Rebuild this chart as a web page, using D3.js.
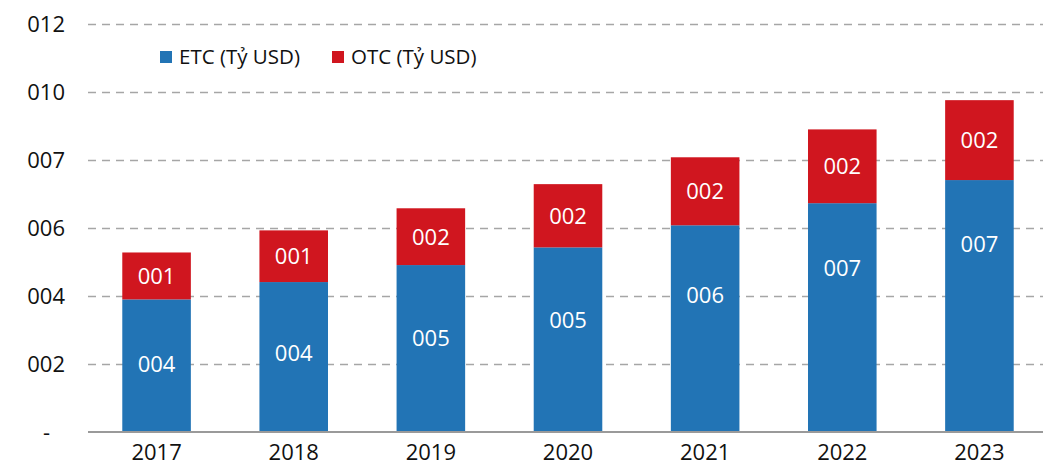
<!DOCTYPE html>
<html>
<head>
<meta charset="utf-8">
<script src="https://cdn.jsdelivr.net/npm/d3@7"></script>
<style>
  html, body { margin: 0; padding: 0; background: #fff; }
  svg { display: block; font-family: "Open Sans", "Noto Sans", sans-serif; }
</style>
</head>
<body>
<svg id="chart" width="1043" height="468"></svg>
<script>
// ---- data ----
const years = ["2017", "2018", "2019", "2020", "2021", "2022", "2023"];
const etcValues = [3.90, 4.41, 4.91, 5.43, 6.08, 6.73, 7.41];
const otcValues = [1.38, 1.52, 1.67, 1.86, 2.00, 2.17, 2.35];
const etcLabels = ["004", "004", "005", "005", "006", "007", "007"];
const otcLabels = ["001", "001", "002", "002", "002", "002", "002"];
// value level at which each ETC label sits in the reference
const etcLabelLevels = [2.00, 2.33, 2.75, 3.29, 4.02, 4.82, 5.52];
const yTickValues = [0, 2, 4, 6, 8, 10, 12];
const yTickLabels = ["-", "002", "004", "006", "007", "010", "012"];
const seriesNames = ["ETC (Tỷ USD)", "OTC (Tỷ USD)"];
const seriesColors = ["#2274b5", "#d0161f"];

// ---- layout ----
const svg = d3.select("#chart");
const W = 1043, H = 468;
const left = 88, plotBottom = 432, plotTop = 24;
const FS = "22px";

const x = d3.scaleBand().domain(years).range([left, W + 5]).paddingInner(0.5).paddingOuter(0.25);
const y = d3.scaleLinear().domain([0, 12]).range([plotBottom, plotTop]);

// y axis labels
const yAxis = d3.axisLeft(y).tickValues(yTickValues).tickSize(0)
  .tickFormat((d, i) => yTickLabels[i]);
const gy = svg.append("g").attr("transform", `translate(${left},0)`).call(yAxis);
gy.select(".domain").remove();
gy.selectAll("text")
  .attr("x", d => d === 0 ? -38 : -23)
  .attr("dy", "0.34em")
  .attr("fill", "#111")
  .style("font-size", FS)
  .style("font-family", "'Open Sans', sans-serif");

// gridlines
svg.append("g").selectAll("line")
  .data(yTickValues.filter(d => d !== 0))
  .join("line")
  .attr("x1", left).attr("x2", W)
  .attr("y1", d => Math.round(y(d)) + 0.5).attr("y2", d => Math.round(y(d)) + 0.5)
  .attr("stroke", "#a6a6a6").attr("stroke-width", 1.3)
  .attr("stroke-dasharray", "8,6");

// stacked bars
const rows = years.map((yr, i) => ({ year: yr, ETC: etcValues[i], OTC: otcValues[i] }));
const stack = d3.stack().keys(["ETC", "OTC"])(rows);
const labelSets = [etcLabels, otcLabels];

const layers = svg.append("g").selectAll("g")
  .data(stack).join("g")
  .attr("fill", (d, i) => seriesColors[i]);

layers.selectAll("rect")
  .data(d => d)
  .join("rect")
  .attr("x", d => x(d.data.year))
  .attr("width", x.bandwidth())
  .attr("y", d => y(d[1]))
  .attr("height", d => y(d[0]) - y(d[1]));

layers.each(function (layer, li) {
  d3.select(this).selectAll("text")
    .data(layer)
    .join("text")
    .attr("x", d => x(d.data.year) + x.bandwidth() / 2)
    .attr("y", (d, i) => li === 0 ? y(etcLabelLevels[i]) : (y(d[0]) + y(d[1])) / 2)
    .attr("dy", "0.36em")
    .attr("text-anchor", "middle")
    .attr("fill", "#fff")
    .style("font-size", FS)
    .text((d, i) => labelSets[li][i]);
});

// x axis baseline
svg.append("line")
  .attr("x1", left).attr("x2", W)
  .attr("y1", plotBottom).attr("y2", plotBottom)
  .attr("stroke", "#9a9a9a").attr("stroke-width", 2);

const xAxis = d3.axisBottom(x).tickSize(0);
const gx = svg.append("g").attr("transform", `translate(0,${plotBottom})`).call(xAxis);
gx.select(".domain").remove();
gx.selectAll("text")
  .attr("y", 28)
  .attr("dy", 0)
  .attr("fill", "#111")
  .style("font-size", FS)
  .style("font-family", "'Open Sans', sans-serif");

// legend
const legend = svg.append("g").attr("transform", "translate(160,51)");
const legendX = [0, 172];
seriesNames.forEach((name, i) => {
  const g = legend.append("g").attr("transform", `translate(${legendX[i]},0)`);
  g.append("rect").attr("width", 12).attr("height", 12).attr("fill", seriesColors[i]);
  g.append("text").attr("x", 19).attr("y", 6).attr("dy", "0.36em")
    .attr("fill", "#111").style("font-size", "20.5px").text(name);
});
</script>
</body>
</html>
